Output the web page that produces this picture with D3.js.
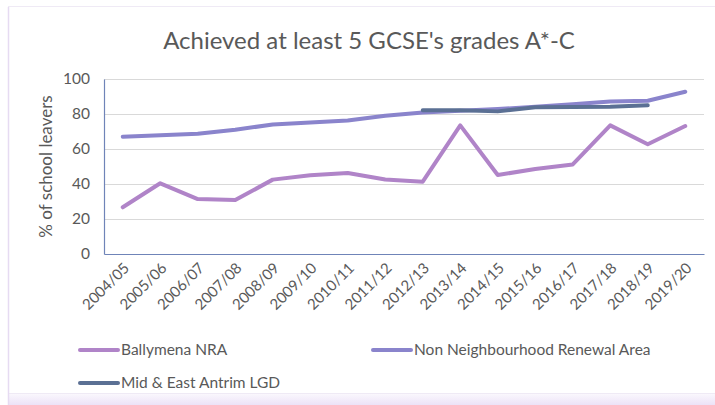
<!DOCTYPE html>
<html>
<head>
<meta charset="utf-8">
<script src="https://cdn.jsdelivr.net/npm/d3@7"></script>
<style>
  html, body { margin: 0; padding: 0; background: #ffffff; }
  svg { display: block; }
  text { font-family: Lato, "Open Sans", sans-serif; fill: #595959; }
</style>
</head>
<body>
<svg id="chart" width="715" height="405"></svg>
<script>
// School years on the category axis
const years = ["2004/05", "2005/06", "2006/07", "2007/08", "2008/09", "2009/10", "2010/11", "2011/12",
               "2012/13", "2013/14", "2014/15", "2015/16", "2016/17", "2017/18", "2018/19", "2019/20"];

// % of school leavers achieving at least 5 GCSEs A*-C
const ballymenaNRA = [26.7, 40.4, 31.4, 30.8, 42.5, 45.0, 46.3, 42.6, 41.3, 73.5, 45.1, 48.6, 51.2, 73.5, 62.7, 73.1];
const nonNRA       = [67.0, 67.9, 68.7, 71.0, 74.0, 75.2, 76.3, 79.0, 80.8, 81.8, 82.8, 84.1, 85.6, 87.2, 87.6, 92.7];
const midEastAntrim = [null, null, null, null, null, null, null, null, 82.2, 82.2, 81.5, 83.8, 84.0, 84.1, 85.0, null];

const yTicks = [0, 20, 40, 60, 80, 100];

const seriesNames = ["Ballymena NRA", "Non Neighbourhood Renewal Area", "Mid & East Antrim LGD"];
const seriesColors = ["#b084c8", "#8a84cc", "#5b7094"];

const series = [ballymenaNRA, nonNRA, midEastAntrim].map((values, i) => ({
  name: seriesNames[i], color: seriesColors[i], values
}));

const svg = d3.select("#chart");

// Chart frame with a soft lavender edge
const defs = svg.append("defs");
const grad = defs.append("linearGradient").attr("id", "bottomShade")
  .attr("x1", 0).attr("y1", 0).attr("x2", 0).attr("y2", 1);
grad.append("stop").attr("offset", "0%").attr("stop-color", "#ffffff");
grad.append("stop").attr("offset", "100%").attr("stop-color", "#ece2f7");

svg.append("rect").attr("x", 8).attr("y", 390).attr("width", 720).attr("height", 15)
  .attr("fill", "url(#bottomShade)");
svg.append("rect").attr("x", 8.5).attr("y", 6.5).attr("width", 720).attr("height", 387)
  .attr("fill", "#ffffff").attr("stroke", "#efeaf5").attr("stroke-width", 1);
svg.append("line").attr("x1", 8.5).attr("x2", 8.5).attr("y1", 7).attr("y2", 405)
  .attr("stroke", "#e6dbf2").attr("stroke-width", 1.5);

const plot = { left: 104, right: 704, top: 79, bottom: 254 };

const x = d3.scalePoint().domain(years).range([plot.left, plot.right]).padding(0.5);
const y = d3.scaleLinear().domain([0, 100]).range([plot.bottom, plot.top]);

// Title
svg.append("text")
  .attr("x", 369).attr("y", 49)
  .attr("text-anchor", "middle")
  .style("font-size", "24px")
  .text("Achieved at least 5 GCSE's grades A*-C");

// Horizontal gridlines
svg.append("g")
  .attr("transform", `translate(${plot.left},0)`)
  .call(d3.axisLeft(y).tickValues(yTicks.filter(t => t > 0)).tickSize(-(plot.right - plot.left)).tickFormat(""))
  .call(g => g.select(".domain").remove())
  .call(g => g.selectAll("line").attr("stroke", "#d9d9d9").attr("stroke-width", 1));

// Y axis
svg.append("g")
  .attr("transform", `translate(${plot.left},0)`)
  .call(d3.axisLeft(y).tickValues(yTicks).tickSize(0).tickPadding(14))
  .call(g => g.select(".domain").attr("stroke", "#6f84b8").attr("stroke-width", 1.2))
  .call(g => g.selectAll("text").style("font-size", "15.5px").style("font-family", "Lato, sans-serif").attr("fill", "#595959"));

// X axis
svg.append("g")
  .attr("transform", `translate(0,${plot.bottom})`)
  .call(d3.axisBottom(x).tickSize(0).tickPadding(0))
  .call(g => g.select(".domain").attr("stroke", "#6f84b8").attr("stroke-width", 1.2))
  .call(g => g.selectAll("text")
    .style("font-size", "15px").style("font-family", "Lato, sans-serif").attr("fill", "#595959")
    .attr("text-anchor", "end")
    .attr("dy", null).attr("y", 0)
    .attr("transform", "translate(7,15) rotate(-45)"));

// Y axis title
svg.append("text")
  .attr("transform", `translate(52,${(plot.top + plot.bottom) / 2}) rotate(-90)`)
  .attr("text-anchor", "middle")
  .style("font-size", "17px")
  .text("% of school leavers");

// Series lines
const line = d3.line()
  .defined(d => d.v !== null)
  .x(d => x(d.year))
  .y(d => y(d.v));

svg.append("g").selectAll("path")
  .data(series)
  .join("path")
  .attr("fill", "none")
  .attr("stroke", d => d.color)
  .attr("stroke-width", 4)
  .attr("stroke-linecap", "round")
  .attr("stroke-linejoin", "round")
  .attr("d", d => line(d.values.map((v, i) => ({ year: years[i], v }))));

// Legend
const legendPos = [
  { x: 80, y: 350 },
  { x: 373, y: 350 },
  { x: 80, y: 383 }
];
const legend = svg.append("g").selectAll("g")
  .data(series)
  .join("g")
  .attr("transform", (d, i) => `translate(${legendPos[i].x},${legendPos[i].y})`);
legend.append("line")
  .attr("x1", 0).attr("x2", 38).attr("y1", 0).attr("y2", 0)
  .attr("stroke", d => d.color).attr("stroke-width", 4).attr("stroke-linecap", "round");
legend.append("text")
  .attr("x", 41).attr("y", 0).attr("dy", "0.35em")
  .style("font-size", "15.5px")
  .text(d => d.name);
</script>
</body>
</html>
